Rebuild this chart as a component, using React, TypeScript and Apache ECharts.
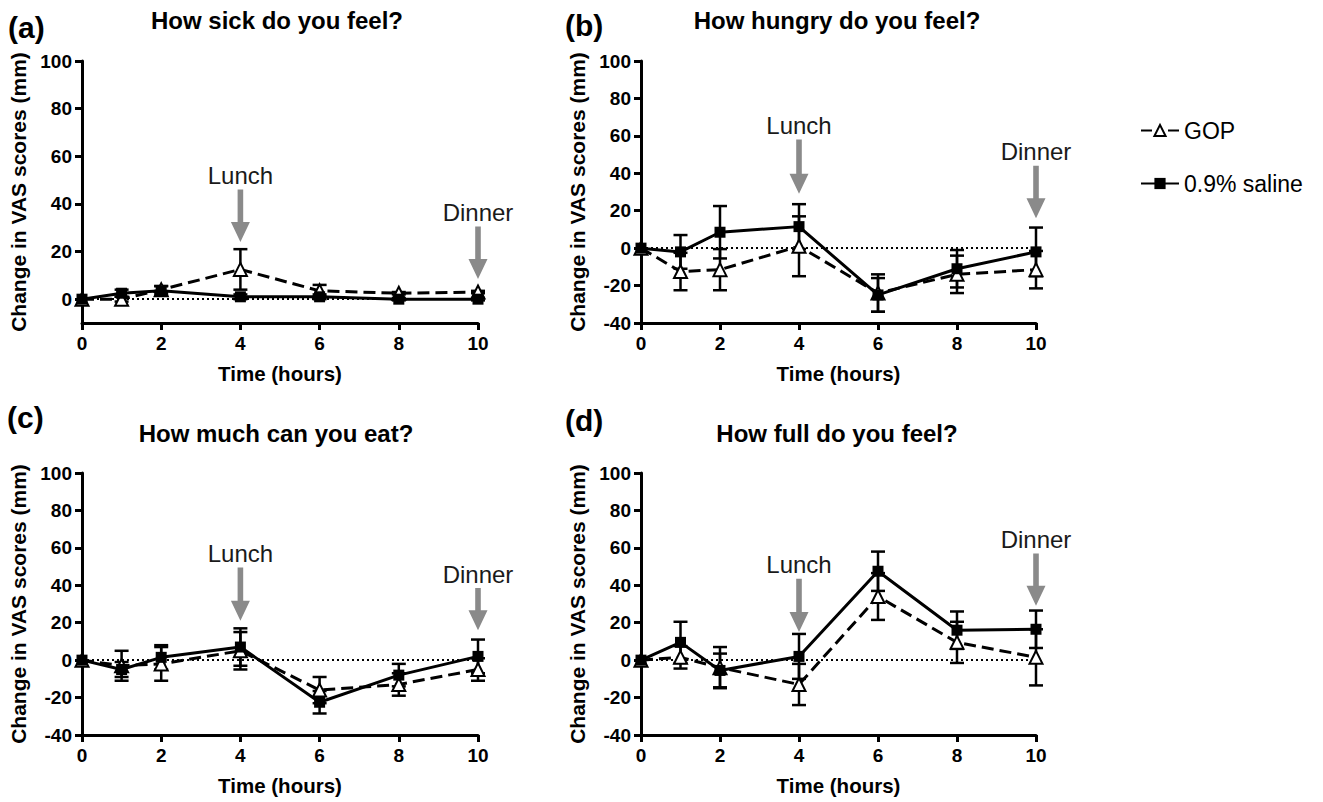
import React, { useEffect, useRef } from "react";
import * as echarts from "echarts";

// ---------- data ----------
const hours = [0, 1, 2, 4, 6, 8, 10];
const xTicks = [0, 2, 4, 6, 8, 10];
const yTicksA = [0, 20, 40, 60, 80, 100];
const yTicksBCD = [-40, -20, 0, 20, 40, 60, 80, 100];

const panelLetters = ["(a)", "(b)", "(c)", "(d)"];
const panelTitles = [
  "How sick do you feel?",
  "How hungry do you feel?",
  "How much can you eat?",
  "How full do you feel?",
];
const yMins = [-10, -40, -40, -40];
const yMax = 100;

const seriesNames = ["GOP", "0.9% saline"];

// (a) How sick
const gopSick = [0, 0, 4, 12.5, 3.5, 2.5, 3];
const gopSickErr = [0, 1, 1.5, 8.5, 2.5, 0.5, 0.5];
const salSick = [0, 2.5, 3.5, 1, 1, 0, 0];
const salSickErr = [0, 1.5, 2, 1, 1, 0.5, 0.5];

// (b) How hungry
const gopHungry = [0, -12.5, -11.5, 1, -24, -14, -11.5];
const gopHungryErr = [0, 10, 11, 16, 10, 10, 10];
const salHungry = [0, -2, 8.5, 11.5, -25, -11, -2];
const salHungryErr = [0, 9, 14, 12, 9, 10, 13];

// (c) How much can you eat
const gopEat = [0, -3, -2, 5, -16, -13, -5];
const gopEatErr = [0, 8, 9, 10, 7, 6, 6];
const salEat = [0, -5, 1.5, 7, -22.5, -8, 2];
const salEatErr = [0, 4, 6.5, 10, 6, 6, 9];

// (d) How full
const gopFull = [0, 1.5, -4, -13, 34, 9.5, 1.5];
const gopFullErr = [0, 6, 11, 11, 12.5, 11, 15];
const salFull = [0, 9.5, -5.5, 2, 47.5, 16, 16.5];
const salFullErr = [0, 11, 9, 12, 10.5, 10, 10];

const gopMeans = [gopSick, gopHungry, gopEat, gopFull];
const gopErrs = [gopSickErr, gopHungryErr, gopEatErr, gopFullErr];
const salMeans = [salSick, salHungry, salEat, salFull];
const salErrs = [salSickErr, salHungryErr, salEatErr, salFullErr];

// meal annotations: [hour, arrow start value, arrow tip value]
const mealLabels = ["Lunch", "Dinner"];
const mealHours = [4, 10];
const lunchArrow = [
  [46, 24],
  [58, 29],
  [49.5, 21],
  [43.5, 15],
];
const dinnerArrow = [
  [30.5, 8.5],
  [44, 16],
  [38.5, 16],
  [57, 29],
];

// ---------- layout / style ----------
const FONT = "'Liberation Sans', Arial, Helvetica, sans-serif";
const grids = [
  { left: 82, top: 61, width: 396, height: 262 },
  { left: 641, top: 61, width: 395, height: 262 },
  { left: 82, top: 473, width: 396, height: 262 },
  { left: 641, top: 473, width: 395, height: 262 },
];
const letterPos = [
  [8, 27],
  [565, 25],
  [7, 417],
  [565, 420],
];
const titlePos = [
  [277, 20],
  [837, 20],
  [276, 433],
  [837, 433],
];

export default function App() {
  const ref = useRef<HTMLDivElement>(null);

  useEffect(() => {
    if (!ref.current) return;
    const chart = echarts.init(ref.current, undefined, { renderer: "svg" });

    const xAxes: any[] = [];
    const yAxes: any[] = [];
    const series: any[] = [];

    const errRender = (params: any, api: any) => {
      const x = api.value(0);
      const lo = api.value(1);
      const hi = api.value(2);
      const top = api.coord([x, hi]);
      const bot = api.coord([x, lo]);
      const hw = 7;
      const style = { stroke: "#000", lineWidth: 2.5, fill: null };
      return {
        type: "group",
        children: [
          { type: "line", shape: { x1: top[0], y1: top[1], x2: bot[0], y2: bot[1] }, style },
          { type: "line", shape: { x1: top[0] - hw, y1: top[1], x2: top[0] + hw, y2: top[1] }, style },
          { type: "line", shape: { x1: bot[0] - hw, y1: bot[1], x2: bot[0] + hw, y2: bot[1] }, style },
        ],
      };
    };

    const arrowRender = (params: any, api: any) => {
      const x = api.value(0);
      const p0 = api.coord([x, api.value(1)]);
      const p1 = api.coord([x, api.value(2)]);
      const px = p0[0];
      const sw = 2.8;
      const hw = 9.5;
      const hl = 20;
      const label = mealLabels[params.dataIndex];
      return {
        type: "group",
        children: [
          {
            type: "polygon",
            shape: {
              points: [
                [px - sw, p0[1]],
                [px + sw, p0[1]],
                [px + sw, p1[1] - hl],
                [px + hw, p1[1] - hl],
                [px, p1[1]],
                [px - hw, p1[1] - hl],
                [px - sw, p1[1] - hl],
              ],
            },
            style: { fill: "#8a8a8a", stroke: null },
          },
          {
            type: "text",
            x: px,
            y: p0[1] - 14,
            style: {
              text: label,
              fill: "#1a1a1a",
              fontSize: 24,
              fontFamily: FONT,
              align: "center",
              verticalAlign: "middle",
              textAlign: "center",
              textVerticalAlign: "middle",
            },
          },
        ],
      };
    };

    for (let i = 0; i < 4; i++) {
      const yTicks = i === 0 ? yTicksA : yTicksBCD;
      xAxes.push({
        type: "value",
        gridIndex: i,
        min: 0,
        max: 10,
        interval: 2,
        name: "Time (hours)",
        nameLocation: "middle",
        nameGap: 40,
        nameTextStyle: { fontSize: 20.5, fontWeight: "bold", color: "#000", fontFamily: FONT },
        axisLine: { show: true, onZero: false, lineStyle: { color: "#000", width: 3 } },
        axisTick: { show: true, length: 7, lineStyle: { color: "#000", width: 3 }, customValues: xTicks },
        axisLabel: {
          fontSize: 19,
          fontWeight: "bold",
          color: "#000",
          fontFamily: FONT,
          margin: 11,
          customValues: xTicks,
        },
        splitLine: { show: false },
      });
      yAxes.push({
        type: "value",
        gridIndex: i,
        min: yMins[i],
        max: yMax,
        name: "Change in VAS scores (mm)",
        nameLocation: "middle",
        nameGap: 53,
        nameTextStyle: { fontSize: 21, fontWeight: "bold", color: "#000", fontFamily: FONT },
        axisLine: { show: true, onZero: false, lineStyle: { color: "#000", width: 3 } },
        axisTick: { show: true, length: 7, lineStyle: { color: "#000", width: 3 }, customValues: yTicks },
        axisLabel: {
          fontSize: 19,
          fontWeight: "bold",
          color: "#000",
          fontFamily: FONT,
          margin: 10,
          customValues: yTicks,
        },
        splitLine: { show: false },
      });

      const gop = gopMeans[i];
      const gopE = gopErrs[i];
      const sal = salMeans[i];
      const salE = salErrs[i];

      series.push({
        type: "custom",
        name: "GOP SEM",
        xAxisIndex: i,
        yAxisIndex: i,
        renderItem: errRender,
        encode: { x: 0, y: [1, 2] },
        data: hours
          .map((h, k) => [h, gop[k] - gopE[k], gop[k] + gopE[k], gopE[k]])
          .filter((d) => d[3] > 0),
        z: 3,
        silent: true,
      });
      series.push({
        type: "custom",
        name: "saline SEM",
        xAxisIndex: i,
        yAxisIndex: i,
        renderItem: errRender,
        encode: { x: 0, y: [1, 2] },
        data: hours
          .map((h, k) => [h, sal[k] - salE[k], sal[k] + salE[k], salE[k]])
          .filter((d) => d[3] > 0),
        z: 3,
        silent: true,
      });
      series.push({
        type: "line",
        name: seriesNames[1],
        xAxisIndex: i,
        yAxisIndex: i,
        data: hours.map((h, k) => [h, sal[k]]),
        symbol: "rect",
        symbolSize: 11,
        itemStyle: { color: "#000" },
        lineStyle: { color: "#000", width: 3 },
        z: 5,
        markLine: {
          silent: true,
          symbol: ["none", "none"],
          label: { show: false },
          lineStyle: { color: "#000", width: 2, type: [2, 3] },
          data: [[{ coord: [0, 0] }, { coord: [10, 0] }]],
          z: 1,
        },
      });
      series.push({
        type: "line",
        name: seriesNames[0],
        xAxisIndex: i,
        yAxisIndex: i,
        data: hours.map((h, k) => [h, gop[k]]),
        symbol: "triangle",
        symbolSize: 13,
        itemStyle: { color: "#fff", borderColor: "#000", borderWidth: 2 },
        lineStyle: { color: "#000", width: 3, type: [12, 6] },
        z: 4,
      });
      series.push({
        type: "custom",
        name: "meals",
        xAxisIndex: i,
        yAxisIndex: i,
        renderItem: arrowRender,
        encode: { x: 0, y: [1, 2] },
        data: [
          [mealHours[0], lunchArrow[i][0], lunchArrow[i][1]],
          [mealHours[1], dinnerArrow[i][0], dinnerArrow[i][1]],
        ],
        z: 6,
        silent: true,
      });
    }

    const graphicEls: any[] = [];
    for (let i = 0; i < 4; i++) {
      graphicEls.push({
        type: "text",
        x: letterPos[i][0],
        y: letterPos[i][1],
        style: {
          text: panelLetters[i],
          fontSize: 30,
          fontWeight: "bold",
          fontFamily: FONT,
          fill: "#000",
          align: "left",
          verticalAlign: "middle",
          textAlign: "left",
          textVerticalAlign: "middle",
        },
      });
      graphicEls.push({
        type: "text",
        x: titlePos[i][0],
        y: titlePos[i][1],
        style: {
          text: panelTitles[i],
          fontSize: 24,
          fontWeight: "bold",
          fontFamily: FONT,
          fill: "#000",
          align: "center",
          verticalAlign: "middle",
          textAlign: "center",
          textVerticalAlign: "middle",
        },
      });
    }

    chart.setOption({
      animation: false,
      backgroundColor: "#fff",
      textStyle: { fontFamily: FONT },
      grid: grids,
      xAxis: xAxes,
      yAxis: yAxes,
      series,
      legend: {
        data: [
          { name: seriesNames[0], lineStyle: { type: [11, 16] } },
          { name: seriesNames[1] },
        ],
        orient: "vertical",
        left: 1135,
        top: 114,
        itemWidth: 38,
        itemHeight: 14,
        itemGap: 30,
        textStyle: { fontSize: 23, color: "#000", fontFamily: FONT },
        selectedMode: false,
      },
      graphic: { elements: graphicEls },
    });

    return () => chart.dispose();
  }, []);

  return (
    <div
      ref={ref}
      style={{ position: "fixed", left: 0, top: 0, width: 1323, height: 802, background: "#fff" }}
    />
  );
}
